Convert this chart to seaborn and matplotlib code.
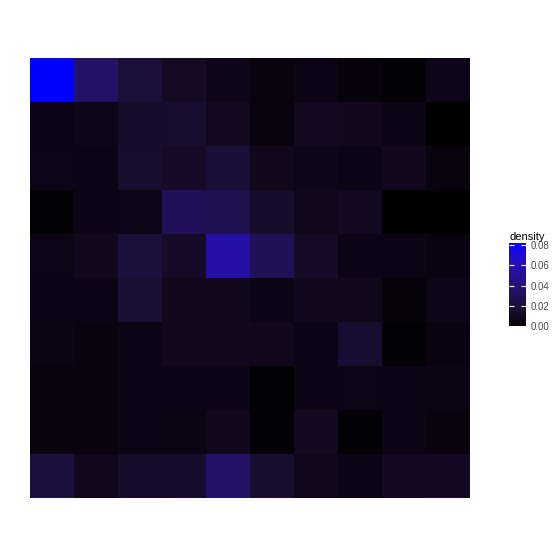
import numpy as np
import pandas as pd
import matplotlib
matplotlib.use('Agg')
import matplotlib.pyplot as plt
import seaborn as sns
from matplotlib.colors import ListedColormap

# density per cell, top row first
row1 = [0.082, 0.036, 0.020, 0.011, 0.0066, 0.0037, 0.0049, 0.0025, 0.0012, 0.0066]
row2 = [0.0049, 0.0066, 0.014, 0.0156, 0.0098, 0.0037, 0.0098, 0.009, 0.0049, 0.0]
row3 = [0.0057, 0.0053, 0.0156, 0.0123, 0.0189, 0.0074, 0.0066, 0.0049, 0.009, 0.0033]
row4 = [0.0008, 0.0053, 0.0057, 0.031, 0.027, 0.014, 0.0074, 0.0098, 0.0, 0.0]
row5 = [0.0057, 0.009, 0.0205, 0.0123, 0.0558, 0.030, 0.0123, 0.0053, 0.0049, 0.0041]
row6 = [0.0049, 0.0049, 0.0172, 0.0074, 0.0074, 0.0049, 0.009, 0.0074, 0.002, 0.0057]
row7 = [0.0045, 0.0037, 0.0053, 0.0082, 0.009, 0.0074, 0.0053, 0.0164, 0.0008, 0.0041]
row8 = [0.0033, 0.0033, 0.0049, 0.0049, 0.0053, 0.0008, 0.0053, 0.0057, 0.0053, 0.0045]
row9 = [0.0033, 0.0037, 0.0049, 0.0045, 0.0082, 0.0012, 0.0107, 0.0012, 0.0053, 0.0037]
row10 = [0.0213, 0.0074, 0.014, 0.0148, 0.0353, 0.0156, 0.0074, 0.0053, 0.0098, 0.0107]
rows = [row1, row2, row3, row4, row5, row6, row7, row8, row9, row10]

cbar_ticks = [0.00, 0.02, 0.04, 0.06, 0.08]

density = pd.DataFrame(rows)


# black -> blue gradient interpolated in CIELAB (like ggplot's scale_fill_gradient)
def lab_to_srgb(L, a, b):
    fy = (L + 16) / 116
    fx = fy + a / 500
    fz = fy - b / 200
    d = 6 / 29

    def finv(f):
        return np.where(f > d, f ** 3, 3 * d ** 2 * (f - 4 / 29))

    X = 0.95047 * finv(fx)
    Y = 1.0 * finv(fy)
    Z = 1.08883 * finv(fz)
    r = 3.2406 * X - 1.5372 * Y - 0.4986 * Z
    g = -0.9689 * X + 1.8758 * Y + 0.0415 * Z
    bl = 0.0557 * X - 0.2040 * Y + 1.0570 * Z
    rgb = np.clip(np.stack([r, g, bl], axis=-1), 0, 1)
    return np.where(rgb <= 0.0031308, 12.92 * rgb, 1.055 * rgb ** (1 / 2.4) - 0.055)


t = np.linspace(0, 1, 256)
blue_lab = (32.30, 79.19, -107.86)
cmap = ListedColormap(np.clip(lab_to_srgb(blue_lab[0] * t, blue_lab[1] * t, blue_lab[2] * t), 0, 1))

plt.rcParams['font.family'] = ['Liberation Sans', 'DejaVu Sans']

fig = plt.figure(figsize=(5.6, 5.6), dpi=100)
ax = fig.add_axes([30 / 560, 1 - 498 / 560, 440 / 560, 440 / 560])
cax = fig.add_axes([509 / 560, 1 - 326 / 560, 17 / 560, 83 / 560])

sns.heatmap(density, ax=ax, cmap=cmap, vmin=density.values.min(), vmax=density.values.max(),
            cbar_ax=cax, xticklabels=False, yticklabels=False,
            cbar_kws={'ticks': cbar_ticks, 'format': '%.2f'})
ax.set_xlabel('')
ax.set_ylabel('')
ax.tick_params(left=False, bottom=False)

cbar = ax.collections[0].colorbar
cbar.outline.set_visible(False)
cax.tick_params(axis='y', direction='in', color='white', length=3.5, width=0.8,
                left=True, right=True, labelsize=7, labelcolor='#4d4d4d', pad=3)
cax.set_title('density', fontsize=8, loc='left', pad=2, x=0.0)

plt.savefig('out.png', dpi=100, facecolor='white')
